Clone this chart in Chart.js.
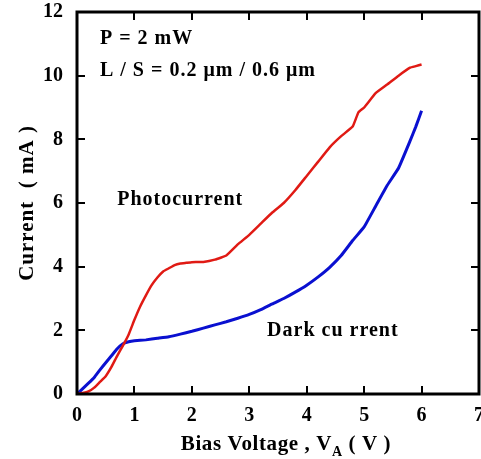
<!DOCTYPE html>
<html>
<head>
<meta charset="utf-8">
<script src="https://cdn.jsdelivr.net/npm/chart.js@4.4.1/dist/chart.umd.min.js"></script>
<style>
  html, body { margin: 0; padding: 0; background: #fff; }
  #wrap { width: 481px; height: 459px; position: relative; }
</style>
</head>
<body>
<div id="wrap"><canvas id="chart"></canvas></div>
<script>
// Photocurrent (red) and dark current (blue), current in mA vs bias voltage in V
const photoVoltage = [0, 0.1, 0.2, 0.3, 0.4, 0.5, 0.6, 0.7, 0.8, 0.9, 1.0, 1.1, 1.2, 1.3, 1.4, 1.5, 1.6, 1.7, 1.8, 1.9, 2.0, 2.2, 2.4, 2.6, 2.8, 3.0, 3.2, 3.4, 3.6, 3.8, 4.0, 4.2, 4.4, 4.6, 4.8, 4.9, 5.0, 5.2, 5.4, 5.6, 5.8, 5.9, 6.0];
const photoCurrent = [0, 0.03, 0.08, 0.2, 0.38, 0.56, 0.85, 1.2, 1.52, 1.87, 2.33, 2.75, 3.1, 3.42, 3.66, 3.85, 3.95, 4.05, 4.1, 4.12, 4.14, 4.15, 4.22, 4.35, 4.7, 5.0, 5.35, 5.7, 6.0, 6.4, 6.85, 7.3, 7.75, 8.1, 8.4, 8.85, 9.0, 9.45, 9.72, 10.0, 10.25, 10.3, 10.35];

const darkVoltage = [0, 0.1, 0.2, 0.3, 0.4, 0.5, 0.6, 0.7, 0.8, 0.9, 1.0, 1.2, 1.4, 1.6, 1.8, 2.0, 2.2, 2.4, 2.6, 2.8, 3.0, 3.2, 3.4, 3.6, 3.8, 4.0, 4.2, 4.4, 4.6, 4.8, 5.0, 5.2, 5.4, 5.6, 5.8, 5.9, 6.0];
const darkCurrent = [0, 0.17, 0.34, 0.52, 0.76, 0.98, 1.2, 1.42, 1.58, 1.64, 1.67, 1.7, 1.75, 1.8, 1.88, 1.97, 2.07, 2.17, 2.27, 2.38, 2.5, 2.65, 2.83, 3.0, 3.2, 3.42, 3.68, 3.98, 4.35, 4.82, 5.25, 5.9, 6.55, 7.1, 7.95, 8.4, 8.9];

const xTicks = [0, 1, 2, 3, 4, 5, 6, 7];
const yTicks = [0, 2, 4, 6, 8, 10, 12];

// text labels placed in data coordinates
const notes = [
  { text: "P = 2 mW", x: 0.4, y: 11.15 },
  { text: "L / S = 0.2 \u03bcm / 0.6 \u03bcm", x: 0.4, y: 10.15 },
  { text: "Photocurrent", x: 0.7, y: 6.1 },
  { text: "Dark cu rrent", x: 3.31, y: 2.0 }
];

const serif = "'Liberation Serif', 'Times New Roman', serif";

function toPoints(xs, ys) {
  return xs.map((x, i) => ({ x: x, y: ys[i] }));
}

// frame, inward ticks, notes and axis titles
const framePlugin = {
  id: "frame",
  afterDraw(chart) {
    const ctx = chart.ctx;
    const xs = chart.scales.x;
    const ys = chart.scales.y;
    const a = chart.chartArea;
    ctx.save();
    ctx.strokeStyle = "#000";
    ctx.lineWidth = 3;
    ctx.strokeRect(a.left, a.top, a.right - a.left, a.bottom - a.top);

    ctx.lineWidth = 2;
    ctx.beginPath();
    xTicks.slice(1, -1).forEach((v) => {
      const px = Math.round(xs.getPixelForValue(v));
      ctx.moveTo(px, a.bottom);
      ctx.lineTo(px, a.bottom - 8);
      ctx.moveTo(px, a.top);
      ctx.lineTo(px, a.top + 8);
    });
    yTicks.slice(1, -1).forEach((v) => {
      const py = Math.round(ys.getPixelForValue(v));
      ctx.moveTo(a.left, py);
      ctx.lineTo(a.left + 8, py);
      ctx.moveTo(a.right, py);
      ctx.lineTo(a.right - 8, py);
    });
    ctx.stroke();

    ctx.fillStyle = "#000";
    ctx.font = "bold 20px " + serif;
    ctx.letterSpacing = "1px";
    ctx.textAlign = "left";
    ctx.textBaseline = "middle";
    notes.forEach((n) => {
      ctx.fillText(n.text, xs.getPixelForValue(n.x), ys.getPixelForValue(n.y));
    });

    // y title
    ctx.save();
    ctx.translate(28, (a.top + a.bottom) / 2);
    ctx.rotate(-Math.PI / 2);
    ctx.textAlign = "center";
    ctx.font = "bold 21px " + serif;
    ctx.letterSpacing = "1px";
    ctx.fillText("Current  ( mA )", 0, 0);
    ctx.restore();

    // x title with subscript
    const parts = [
      { t: "Bias Voltage , V", f: "bold 21px " + serif, dy: 0 },
      { t: "A", f: "bold 14px " + serif, dy: 7 },
      { t: " ( V )", f: "bold 21px " + serif, dy: 0 }
    ];
    ctx.letterSpacing = "0.6px";
    let total = 0;
    parts.forEach((p) => { ctx.font = p.f; total += ctx.measureText(p.t).width; });
    let cx = 286 - total / 2;
    const ty = 445;
    ctx.textAlign = "left";
    parts.forEach((p) => {
      ctx.font = p.f;
      ctx.fillText(p.t, cx, ty + p.dy);
      cx += ctx.measureText(p.t).width;
    });
    ctx.restore();
  }
};

new Chart(document.getElementById("chart"), {
  type: "scatter",
  data: {
    datasets: [
      {
        label: "Photocurrent",
        data: toPoints(photoVoltage, photoCurrent),
        showLine: true,
        borderColor: "#e01a14",
        borderWidth: 2.5,
        pointRadius: 0,
        tension: 0.1
      },
      {
        label: "Dark current",
        data: toPoints(darkVoltage, darkCurrent),
        showLine: true,
        borderColor: "#0a10d0",
        borderWidth: 3,
        pointRadius: 0,
        tension: 0.1
      }
    ]
  },
  options: {
    responsive: true,
    maintainAspectRatio: false,
    animation: false,
    layout: { padding: { top: 12, right: 2, left: 0, bottom: 0 } },
    plugins: {
      legend: { display: false },
      tooltip: { enabled: false }
    },
    scales: {
      x: {
        type: "linear",
        min: 0,
        max: 7,
        afterFit(scale) {
          scale.height = 65;
          scale.paddingRight = 0;
          scale.paddingLeft = 0;
        },
        afterBuildTicks(scale) { scale.ticks = xTicks.map((v) => ({ value: v })); },
        grid: { display: false },
        border: { display: false },
        ticks: {
          color: "#000",
          padding: 2,
          maxRotation: 0,
          font: { family: serif, size: 20, weight: "bold" }
        }
      },
      y: {
        type: "linear",
        min: 0,
        max: 12,
        afterFit(scale) {
          scale.width = 77;
          scale.paddingTop = 0;
          scale.paddingBottom = 0;
        },
        afterBuildTicks(scale) { scale.ticks = yTicks.map((v) => ({ value: v })); },
        grid: { display: false },
        border: { display: false },
        ticks: {
          color: "#000",
          padding: 6,
          font: { family: serif, size: 20, weight: "bold" }
        }
      }
    }
  },
  plugins: [framePlugin]
});
</script>
</body>
</html>
